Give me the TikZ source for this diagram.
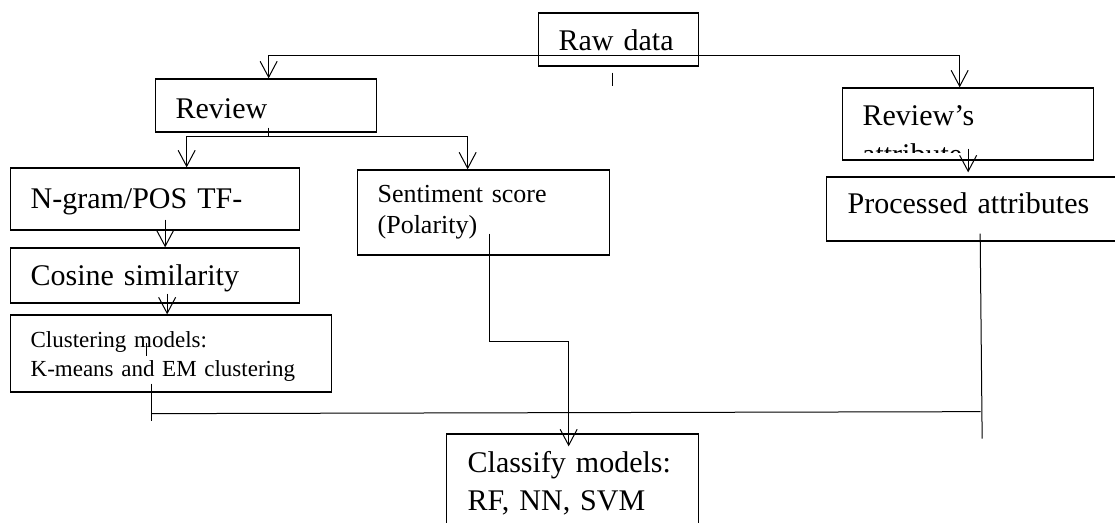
\documentclass[tikz,border=0pt]{standalone}
\usepackage{fontspec}
\setmainfont{Liberation Serif}
\usetikzlibrary{arrows.meta}

\tikzset{
  box/.style={draw, line width=1.3pt, anchor=base west, inner ysep=0pt, inner xsep=20pt, align=left},
  big/.style={font=\fontsize{30}{38}\selectfont},
  mid/.style={font=\fontsize{26}{31}\selectfont},
  small/.style={font=\fontsize{23}{29}\selectfont},
  ln/.style={line width=1pt},
  arr/.style={ln, -{Straight Barb[length=16pt, width=17pt]}}
}

\begin{document}
\begin{tikzpicture}[x=1pt, y=-1pt]
        \useasboundingbox (0,0) rectangle (1115,522);
        \clip (0,0) rectangle (1115,522);

        \node[box, big, text width=120pt, text height=37pt, text depth=16pt] (raw) at (538,50) {Raw data};
        \node[box, big, text width=181pt, text height=39pt, text depth=14pt] (review) at (155,118) {Review};
        \node[box, big, text width=211pt, text height=37pt, text depth=35pt] (attr) at (842,125) {Review’s};
        \node[box, big, text width=249pt, text height=40pt, text depth=22pt] (ngram) at (10,208) {N-gram/POS TF-};
        \node[box, mid, text width=212pt, text height=32pt, text depth=53pt] (senti) at (357,202) {Sentiment score\\(Polarity)};
        \node[box, big, inner xsep=21pt, text width=252pt, text height=36pt, text depth=28pt] (proc) at (826,213) {Processed attributes};
        \node[box, big, text width=249pt, text height=37pt, text depth=18pt] (cosine) at (10,285) {Cosine similarity};
        \node[box, small, text width=281pt, text height=32pt, text depth=45pt] (clust) at (10,347) {Clustering models:\\K-means and EM clustering};
        \node[box, big, inner xsep=21pt, text width=210pt, text height=38pt, text depth=60pt] (classify) at (446,472) {Classify models:\\RF, NN, SVM};

        % second line of the attribute box is cut off
        \begin{scope}
            \clip (842,88) rectangle (1093,152);
            \node[big, anchor=base west, inner sep=0pt] (attrmore) at (862,164) {attribute};
        \end{scope}

        \draw[arr] ([yshift=-15.5pt]raw.center) -| ([xshift=2.5pt]review.north);
        \draw[arr] ([yshift=-15.5pt]raw.center) -| ([xshift=-8.5pt]attr.north);
        \draw[ln] ([xshift=-6pt, yshift=-6pt]raw.south) -- ++(0,13);

        \draw[ln] ([xshift=2.5pt, yshift=5pt]review.south) -- ++(0,9) coordinate (revsplit);
        \draw[arr] (revsplit) -| ([xshift=31.5pt]ngram.north);
        \draw[arr] (revsplit) -| ([xshift=-16pt]senti.north);

        \draw[arr] ([xshift=10pt, yshift=11pt]ngram.south) -- ([xshift=10pt]cosine.north);
        \draw[arr] ([xshift=12pt, yshift=10pt]cosine.south) -- ([xshift=-4pt]clust.north);
        \draw[ln] ([xshift=-24.5pt, yshift=50pt]clust.south) -- ++(0,13);
        \draw[arr] ([yshift=12pt]attr.south) -- ([xshift=-5.5pt, yshift=4pt]proc.north);

        \draw[arr] ([xshift=6pt, yshift=22pt]senti.south) -- ++(0,108) -| ([xshift=-4pt, yshift=-13pt]classify.north);
        \draw[ln] ([xshift=-19.5pt, yshift=9pt]clust.south) -- ++(0,37);
        \draw[ln] ([xshift=6.5pt, yshift=8pt]proc.south) -- ++(2,205);
        \draw[ln] ([xshift=-19.5pt, yshift=-21pt]clust.south) -- ([xshift=7pt, yshift=-170pt]proc.south);
\end{tikzpicture}
\end{document}
